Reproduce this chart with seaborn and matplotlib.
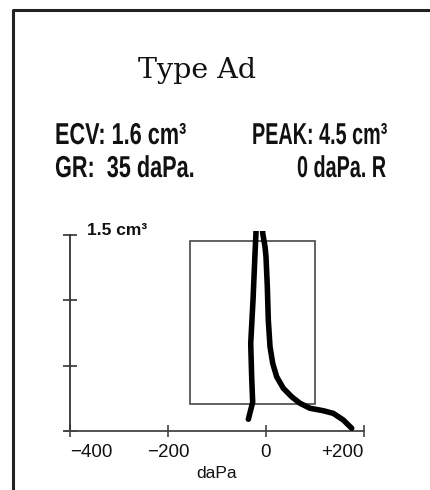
import matplotlib
matplotlib.use("Agg")
import matplotlib.pyplot as plt
import seaborn as sns
import pandas as pd
from matplotlib.patches import Rectangle
from matplotlib.lines import Line2D
from matplotlib.patheffects import AbstractPathEffect
from matplotlib.transforms import Affine2D

# ---------------- data ----------------
title = "Type Ad"
ecv_text = "ECV: 1.6 cm³"
gr_text = "GR:  35 daPa."
peak_text = "PEAK: 4.5 cm³"
peak_pos_text = "0 daPa. R"
y_unit_label = "1.5 cm³"
x_label = "daPa"

x_ticks = [-400, -200, 0, 200]
x_tick_labels = ["\u2212400", "\u2212200", "0", "+200"]
y_ticks = [0, 0.5, 1.0, 1.5]

# normal-range box (daPa, cm3)
box_pressure = [-155, 100]
box_volume = [0.21, 1.45]

# traced tympanogram (pressure daPa, admittance cm3) – goes off scale at the peak
pressure = [-36, -27.2, -29.2, -31.2, -26.5, -22.4, -20.4, -14,
            -6.7, -2.0, 0, 2.7, 4.7, 8.2, 13.7, 21.8, 35.3, 52.4, 69.4,
            89.8, 117, 137.3, 157.8, 174.9]
volume = [0.09, 0.22, 0.41, 0.67, 1.0, 1.36, 1.52, 4.5,
          1.513, 1.41, 1.334, 1.104, 0.849, 0.645, 0.518, 0.415, 0.327, 0.262, 0.212,
          0.174, 0.155, 0.135, 0.084, 0.021]


class Squeeze(AbstractPathEffect):
    """Rescale text glyphs (condensed look) while keeping the artist a real Text."""
    def __init__(self, sx, sy=1.0):
        super().__init__()
        self.sx = sx
        self.sy = sy

    def draw_path(self, renderer, gc, tpath, affine, rgbFace=None):
        renderer.draw_path(gc, tpath, Affine2D().scale(self.sx, self.sy) + affine, rgbFace)


sns.set_theme(style="white")
plt.rcParams["font.family"] = ["Liberation Sans", "DejaVu Sans"]

W, H = 430, 490
fig = plt.figure(figsize=(W / 100, H / 100), dpi=100)
fig.patch.set_facecolor("white")

# frame (left + top edges)
fig.add_artist(Line2D([13 / W, 13 / W, 1.0], [0.0, 1 - 10 / H, 1 - 10 / H],
                      transform=fig.transFigure, color="#222222", lw=2.2))

# axes placed so that -400..200 daPa -> 70..364 px and 0..1.5 -> 431..235 px
xl, xr = -410, 210
yb, yt = -0.05, 1.53
px_per_dapa = 0.49
px_per_cm = 130.7
left_px = 70 + (xl + 400) * px_per_dapa
right_px = 70 + (xr + 400) * px_per_dapa
bot_px = 431 - yb * px_per_cm
top_px = 431 - yt * px_per_cm
ax = fig.add_axes([left_px / W, 1 - bot_px / H, (right_px - left_px) / W, (bot_px - top_px) / H])
ax.set_facecolor("none")
ax.set_xlim(xl, xr)
ax.set_ylim(yb, yt)

ax.add_patch(Rectangle((box_pressure[0], box_volume[0]),
                       box_pressure[1] - box_pressure[0],
                       box_volume[1] - box_volume[0],
                       fill=False, ec="#555555", lw=1.3, zorder=2))

df = pd.DataFrame({"pressure": pressure, "volume": volume})
sns.lineplot(data=df, x="pressure", y="volume", sort=False, estimator=None,
             color="black", lw=4.0, ax=ax, zorder=3)
ax.lines[-1].set_solid_capstyle("round")
ax.lines[-1].set_solid_joinstyle("round")

for s in ["top", "right"]:
    ax.spines[s].set_visible(False)
ax.spines["left"].set_position(("data", -400))
ax.spines["left"].set_bounds(0, 1.5)
ax.spines["left"].set_color("#333333")
ax.spines["left"].set_linewidth(1.3)
ax.spines["bottom"].set_position(("data", 0))
ax.spines["bottom"].set_bounds(-410, 200)
ax.spines["bottom"].set_color("#444444")
ax.spines["bottom"].set_linewidth(1.3)

ax.set_xticks(x_ticks)
ax.set_xticklabels(x_tick_labels)
ax.set_yticks(y_ticks)
ax.set_yticklabels([])
ax.tick_params(axis="y", direction="inout", length=10, width=1.2, color="#333333", left=True)
ax.tick_params(axis="x", direction="inout", length=8, width=1.2, color="#444444",
               pad=5, labelsize=13.5, labelcolor="#111111", bottom=True)
labels = ax.get_xticklabels()
labels[0].set_ha("left")
labels[-1].set_ha("right")
ax.set_xlabel(x_label, fontsize=12.5, color="#111111", labelpad=4)
ax.set_ylabel("")

# y unit label
fig.text(87 / W, 1 - 235 / H, y_unit_label, fontsize=12.5, fontweight="bold",
         va="baseline", ha="left", color="#111111")

# title
fig.text(138 / W, 1 - 78 / H, title, family=["DejaVu Serif"], fontsize=20.5,
         va="baseline", ha="left", color="#111111")

# condensed header texts (drawn taller than their nominal size)
hdr = dict(fontsize=15, fontweight="bold", va="baseline", ha="left", color="#111111",
           path_effects=[Squeeze(1.04, 1.45)])
fig.text(55 / W, 1 - 144 / H, ecv_text, **hdr)
fig.text(55 / W, 1 - 177 / H, gr_text, **hdr)
hdr_p = dict(hdr)
hdr_p["path_effects"] = [Squeeze(0.95, 1.45)]
fig.text(252 / W, 1 - 144 / H, peak_text, **hdr_p)
fig.text(297 / W, 1 - 177 / H, peak_pos_text, **hdr_p)

fig.savefig("out.png", dpi=100)
